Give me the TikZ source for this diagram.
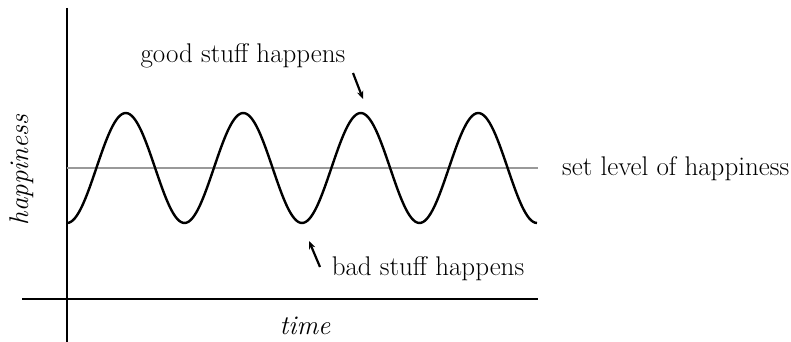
\documentclass[tikz,border=0pt]{standalone}
\usepackage{fontspec}
\usetikzlibrary{arrows.meta}
\begin{document}
\begin{tikzpicture}[x=1pt,y=-1pt,
  axis/.style={line width=2.4pt,black},
  wave/.style={line width=2.4pt,black,line join=round},
  setline/.style={line width=2pt,black!40},
  lbl/.style={inner sep=0pt,font=\fontsize{27}{32}\selectfont},
  ilbl/.style={inner sep=0pt,font=\fontsize{27}{32}\selectfont\itshape},
  pointer/.style={line width=2.2pt,-{Stealth[length=8pt,width=6.5pt]}}]
\useasboundingbox (0,0) rectangle (791,342);
% axes
\coordinate (ytop) at (67,8);
\coordinate (ybot) at (67,342);
\coordinate (xl) at (22,299);
\coordinate (xr) at (538,299);
\draw[axis] (ytop) -- (ybot);
\draw[axis] (xl) -- (xr);
% set level
\coordinate (sl) at (67,168);
\coordinate (sr) at (538,168);
\draw[setline] (sl) -- (sr);
% wave
\draw[wave] plot[domain=67:537,samples=240,smooth] (\x,{168+55*cos(3.06383*(\x-67))});
% labels
\node[lbl,anchor=west] (setlbl) at (562,169) {set level of happiness};
\node[lbl] (good) at (243,56) {good stuff happens};
\node[lbl] (bad) at (428,269) {bad stuff happens};
\node[ilbl] (time) at (305,326) {time};
\node[ilbl,rotate=90] (happy) at (22,170) {happiness};
% pointers
\coordinate (gs) at (353,73);
\coordinate (ge) at (363,99);
\coordinate (bs) at (320,267);
\coordinate (be) at (309,241);
\draw[pointer] (gs) -- (ge);
\draw[pointer] (bs) -- (be);
\end{tikzpicture}
\end{document}
